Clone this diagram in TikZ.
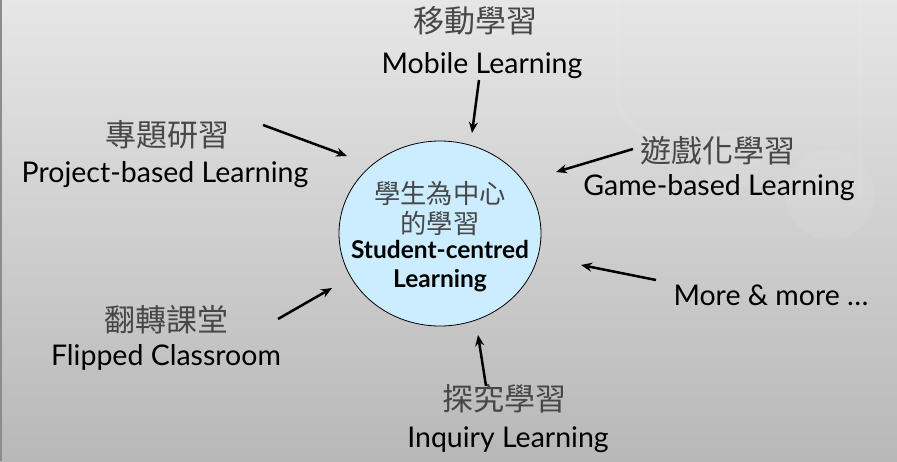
\documentclass[tikz,border=0pt]{standalone}
\usepackage{fontspec}
\setmainfont{Lato}
\newfontfamily\cjk{Noto Sans CJK TC}
\usetikzlibrary{arrows.meta,shapes.geometric}
\definecolor{bgtop}{RGB}{230,230,230}
\definecolor{bgbot}{RGB}{184,184,184}
\definecolor{bubble}{RGB}{204,236,255}
\begin{document}
\begin{tikzpicture}[x=1pt,y=-1pt,
  en/.style={anchor=base, inner sep=0pt, font=\fontsize{28.5}{30}\selectfont, text=black},
  zh/.style={inner sep=0pt, font=\cjk\fontsize{31}{32}\selectfont, text=black!72},
  hubzh/.style={inner sep=0pt, font=\cjk\fontsize{26.3}{30}\selectfont, text=black!72},
  huben/.style={anchor=base, inner sep=0pt, font=\bfseries\fontsize{24.5}{26}\selectfont, text=black},
  arr/.style={-{Stealth[length=11pt,width=9pt]}, line width=2.5pt, black}]
\useasboundingbox (0,0) rectangle (897,461);
\shade[top color=bgtop, bottom color=bgbot] (0,0) rectangle (897,461);
\fill[black!45] (0,0) rectangle (2,461);
% faint decoration, upper right
\begin{scope}[white, opacity=0.07, line width=5pt]
  \draw (618,0) -- (618,95) arc[start angle=180, end angle=90, radius=40];
  \draw (860,0) -- (860,200);
  \fill (830,195) circle[radius=45];
  \fill (730,160) circle[radius=30];
\end{scope}
% centre
\node[draw=black, line width=0.8pt, fill=bubble, ellipse, minimum width=202pt, minimum height=185pt, inner sep=0pt] (hub) at (440,233.5) {};
\node[hubzh] (hz1) at (440,193.5) {學生為中心};
\node[hubzh] (hz2) at (440,223) {的學習};
\node[huben] (he1) at (440,258) {Student-centred};
\node[huben] (he2) at (440,287) {Learning};
% labels
\node[zh] (mz) at (475,21) {移動學習};
\node[en] (me) at (482,73) {Mobile Learning};
\node[zh] (pz) at (167,135) {專題研習};
\node[en] (pe) at (165,182) {Project-based Learning};
\node[zh] (gz) at (718,151) {遊戲化學習};
\node[en] (ge) at (719,195) {Game-based Learning};
\node[en] (oe) at (771,305) {More \& more …};
\node[zh] (fz) at (166,320) {翻轉課堂};
\node[en] (fe) at (166,365) {Flipped Classroom};
\node[zh] (iz) at (504,399) {探究學習};
\node[en] (ie) at (508,447) {Inquiry Learning};
% arrow ends
\coordinate (m1) at (479,80);  \coordinate (m2) at (472,133);
\coordinate (p1) at (263,125); \coordinate (p2) at (347,156);
\coordinate (g1) at (633,149); \coordinate (g2) at (556,172);
\coordinate (o1) at (656,280); \coordinate (o2) at (581,265);
\coordinate (f1) at (278,319); \coordinate (f2) at (332,288);
\coordinate (i1) at (486,386); \coordinate (i2) at (478,335);
\draw[arr] (m1) -- (m2);
\draw[arr] (p1) -- (p2);
\draw[arr] (g1) -- (g2);
\draw[arr] (o1) -- (o2);
\draw[arr] (f1) -- (f2);
\draw[arr] (i1) -- (i2);
\end{tikzpicture}
\end{document}
